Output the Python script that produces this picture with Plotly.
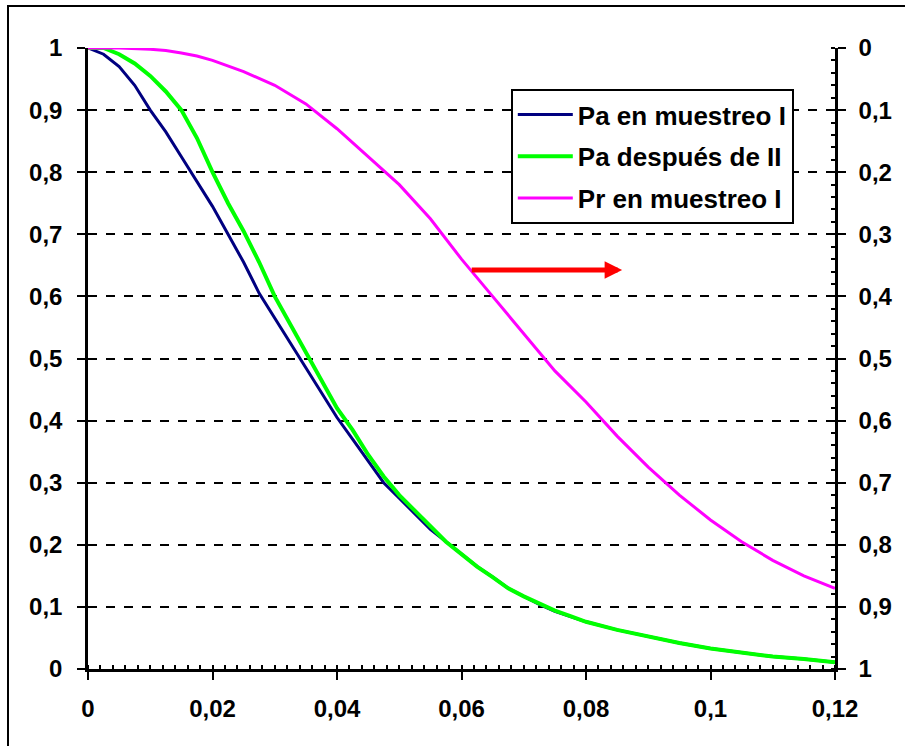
import plotly.graph_objects as go

# Data
x_pa1 = [0, 0.0025, 0.005, 0.0075, 0.01, 0.0125, 0.015, 0.0175, 0.02, 0.0225, 0.025, 0.0275,
         0.03, 0.0325, 0.035, 0.0375, 0.04, 0.0425, 0.045, 0.0475, 0.05, 0.0525, 0.055, 0.0575,
         0.06, 0.0625, 0.065, 0.0675, 0.07, 0.0725, 0.075, 0.0775, 0.08, 0.085, 0.09, 0.095,
         0.1, 0.105, 0.11, 0.115, 0.12]
pa_muestreo1 = [1, 0.99, 0.97, 0.94, 0.90, 0.865, 0.825, 0.785, 0.745, 0.70, 0.655, 0.605,
                0.565, 0.525, 0.485, 0.445, 0.405, 0.37, 0.335, 0.30, 0.275, 0.25, 0.225, 0.205,
                0.185, 0.165, 0.148, 0.13, 0.117, 0.104, 0.093, 0.084, 0.076, 0.063, 0.052, 0.042,
                0.033, 0.026, 0.02, 0.016, 0.011]

x_pa2 = [0, 0.0025, 0.005, 0.0075, 0.01, 0.0125, 0.015, 0.0175, 0.02, 0.0225, 0.025, 0.0275,
         0.03, 0.0325, 0.035, 0.0375, 0.04, 0.0425, 0.045, 0.0475, 0.05, 0.0525, 0.055, 0.0575,
         0.06, 0.0625, 0.065, 0.0675, 0.07, 0.0725, 0.075, 0.0775, 0.08, 0.085, 0.09, 0.095,
         0.1, 0.105, 0.11, 0.115, 0.12]
pa_despues2 = [1, 1.0, 0.99, 0.975, 0.955, 0.93, 0.90, 0.855, 0.80, 0.75, 0.705, 0.655,
               0.60, 0.555, 0.51, 0.465, 0.42, 0.385, 0.345, 0.31, 0.28, 0.255, 0.23, 0.205,
               0.185, 0.165, 0.148, 0.13, 0.117, 0.105, 0.094, 0.085, 0.076, 0.063, 0.052, 0.042,
               0.033, 0.026, 0.02, 0.016, 0.011]

x_pr = [0, 0.005, 0.01, 0.0125, 0.015, 0.0175, 0.02, 0.025, 0.03, 0.035, 0.04, 0.045, 0.05,
        0.055, 0.06, 0.065, 0.07, 0.075, 0.08, 0.085, 0.09, 0.095, 0.1, 0.105, 0.11, 0.115, 0.12]
pr_muestreo1 = [0, 0, 0.002, 0.004, 0.008, 0.013, 0.02, 0.038, 0.06, 0.09, 0.13, 0.175, 0.22,
                0.275, 0.34, 0.40, 0.46, 0.52, 0.57, 0.625, 0.675, 0.72, 0.76, 0.795, 0.825, 0.85, 0.87]

names = ["Pa en muestreo I", "Pa después de II", "Pr en muestreo I"]

# Arrow (data coords)
arrow_start = (0.0614, 0.6425)
arrow_end = (0.0858, 0.6425)

FONT = "Arial, Liberation Sans, sans-serif"

fig = go.Figure()
fig.add_trace(go.Scatter(x=x_pa1, y=pa_muestreo1, mode="lines", name=names[0],
                         line=dict(color="#000080", width=3), legendgroup="a"))
fig.add_trace(go.Scatter(x=x_pa2, y=pa_despues2, mode="lines", name=names[1],
                         line=dict(color="#00FF00", width=4), legendgroup="b"))
fig.add_trace(go.Scatter(x=x_pr, y=pr_muestreo1, mode="lines", name=names[2], yaxis="y2",
                         line=dict(color="#FF00FF", width=3), legendgroup="c"))

fig.add_annotation(x=arrow_end[0], y=arrow_end[1], ax=arrow_start[0], ay=arrow_start[1],
                   xref="x", yref="y", axref="x", ayref="y", text="", showarrow=True,
                   arrowhead=2, arrowsize=0.7, arrowwidth=5, arrowcolor="#FF0000")

# outer border
fig.add_shape(type="rect", xref="paper", yref="paper",
              x0=(8 - 88) / 747, x1=1.3, y0=-0.3, y1=1 + (48 - 6) / 621,
              line=dict(color="black", width=2), fillcolor="rgba(0,0,0,0)", layer="below")

tickfont = dict(family=FONT, size=24, color="black", weight="bold")

fig.update_layout(
    width=905, height=746,
    margin=dict(l=88, r=70, t=48, b=77),
    paper_bgcolor="white", plot_bgcolor="white",
    separators=",.",
    showlegend=True,
    legend=dict(x=0.566, y=0.934, xanchor="left", yanchor="top",
                bgcolor="white", bordercolor="black", borderwidth=2,
                font=dict(family=FONT, size=26, color="black", weight="bold"),
                tracegroupgap=5, traceorder="grouped", itemwidth=55),
    xaxis=dict(range=[0, 0.12], dtick=0.02, tick0=0, showgrid=False, zeroline=False,
               showline=True, linecolor="black", linewidth=2.5,
               ticks="outside", ticklen=8, tickwidth=2, tickcolor="black",
               minor=dict(ticks="inside", dtick=0.002, ticklen=4, tickwidth=2, tickcolor="black"),
               tickfont=tickfont, ticklabelstandoff=8),
    yaxis=dict(range=[0, 1], dtick=0.1, tick0=0, showgrid=True, gridcolor="black",
               griddash="dash", gridwidth=1.5, zeroline=False,
               showline=True, linecolor="black", linewidth=2.5,
               ticks="outside", ticklen=8, tickwidth=2, tickcolor="black",
               tickfont=tickfont, ticklabelstandoff=10),
    yaxis2=dict(range=[1, 0], dtick=0.1, tick0=0, overlaying="y", side="right",
                showgrid=False, zeroline=False,
                showline=True, linecolor="black", linewidth=2.5,
                ticks="outside", ticklen=8, tickwidth=2, tickcolor="black",
                minor=dict(ticks="inside", dtick=0.02, ticklen=4, tickwidth=2, tickcolor="black"),
                tickfont=tickfont, ticklabelstandoff=8),
)

fig.write_html("out.html")
